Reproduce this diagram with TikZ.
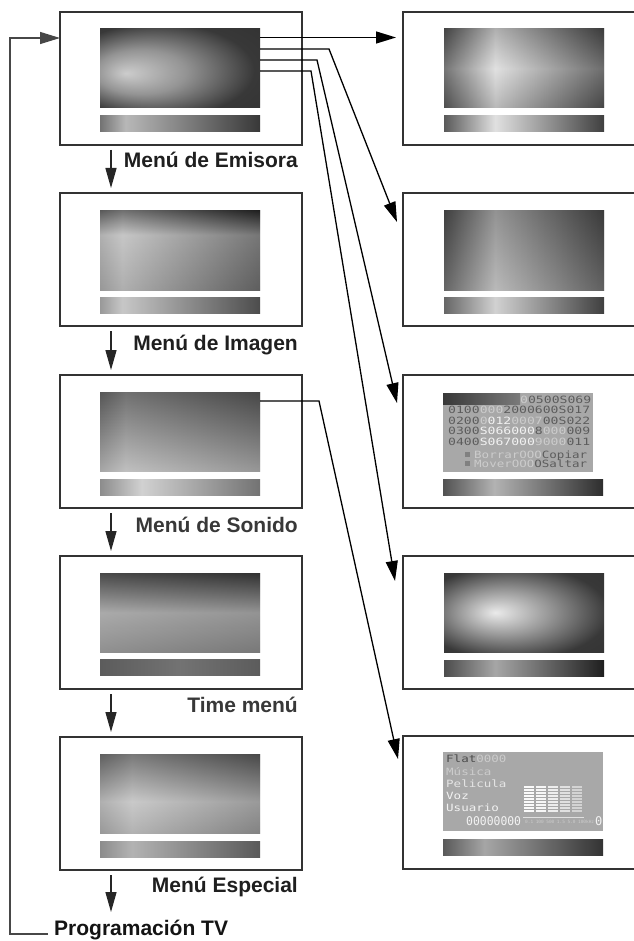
\documentclass[tikz,border=0pt]{standalone}
\usepackage{fontspec}
\setmainfont{Liberation Sans}
\newfontfamily\osd{DejaVu Sans Mono}
\usepackage{graphicx}
\usetikzlibrary{arrows.meta,calc}
\definecolor{odk}{gray}{0.36}
\definecolor{olt}{gray}{0.80}
\definecolor{owt}{gray}{0.95}
\definecolor{panel}{gray}{0.66}
% ---- shadings (box spans 25bp..75bp) ----
\pgfdeclareradialshading{spotLone}{\pgfpoint{-17bp}{-3bp}}{color(0bp)=(black!20); color(14bp)=(black!42); color(30bp)=(black!78); color(50bp)=(black!82)}
\pgfdeclarehorizontalshading{barLone}{100bp}{color(0bp)=(black!55); color(25bp)=(black!55); color(33bp)=(black!28); color(75bp)=(black!78); color(100bp)=(black!78)}
\pgfdeclareverticalshading{vLtwo}{100bp}{color(0bp)=(black!45); color(25bp)=(black!45); color(60bp)=(black!28); color(75bp)=(black!88); color(100bp)=(black!88)}
\pgfdeclarehorizontalshading{hLtwo}{100bp}{color(0bp)=(black!35); color(25bp)=(black!35); color(32bp)=(black!15); color(75bp)=(black!85); color(100bp)=(black!85)}
\pgfdeclarehorizontalshading{barLtwo}{100bp}{color(0bp)=(black!40); color(25bp)=(black!40); color(32bp)=(black!22); color(75bp)=(black!70); color(100bp)=(black!70)}
\pgfdeclareverticalshading{vLthree}{100bp}{color(0bp)=(black!28); color(25bp)=(black!28); color(75bp)=(black!80); color(100bp)=(black!80)}
\pgfdeclarehorizontalshading{hLthree}{100bp}{color(0bp)=(black!45); color(25bp)=(black!45); color(33bp)=(black!20); color(75bp)=(black!60); color(100bp)=(black!60)}
\pgfdeclarehorizontalshading{barLthree}{100bp}{color(0bp)=(black!45); color(25bp)=(black!45); color(38bp)=(black!18); color(75bp)=(black!55); color(100bp)=(black!55)}
\pgfdeclareverticalshading{vLfour}{100bp}{color(0bp)=(black!45); color(25bp)=(black!45); color(50bp)=(black!30); color(75bp)=(black!85); color(100bp)=(black!85)}
\pgfdeclarehorizontalshading{hLfour}{100bp}{color(0bp)=(black!40); color(25bp)=(black!40); color(75bp)=(black!70); color(100bp)=(black!70)}
\pgfdeclarehorizontalshading{barLfour}{100bp}{color(0bp)=(black!64); color(25bp)=(black!64); color(50bp)=(black!55); color(75bp)=(black!64); color(100bp)=(black!64)}
\pgfdeclareverticalshading{vLfive}{100bp}{color(0bp)=(black!40); color(25bp)=(black!40); color(45bp)=(black!25); color(75bp)=(black!78); color(100bp)=(black!78)}
\pgfdeclarehorizontalshading{hLfive}{100bp}{color(0bp)=(black!40); color(25bp)=(black!40); color(35bp)=(black!15); color(75bp)=(black!62); color(100bp)=(black!62)}
\pgfdeclarehorizontalshading{barLfive}{100bp}{color(0bp)=(black!45); color(25bp)=(black!45); color(35bp)=(black!30); color(75bp)=(black!65); color(100bp)=(black!65)}
\pgfdeclarehorizontalshading{hRone}{100bp}{color(0bp)=(black!75); color(25bp)=(black!75); color(41bp)=(black!10); color(75bp)=(black!80); color(100bp)=(black!80)}
\pgfdeclareverticalshading{vRone}{100bp}{color(0bp)=(black!60); color(25bp)=(black!60); color(50bp)=(black!15); color(75bp)=(black!70); color(100bp)=(black!70)}
\pgfdeclarehorizontalshading{barRone}{100bp}{color(0bp)=(black!65); color(25bp)=(black!65); color(41bp)=(black!12); color(75bp)=(black!75); color(100bp)=(black!75)}
\pgfdeclarehorizontalshading{hRtwo}{100bp}{color(0bp)=(black!75); color(25bp)=(black!75); color(41bp)=(black!28); color(75bp)=(black!78); color(100bp)=(black!78)}
\pgfdeclareverticalshading{vRtwo}{100bp}{color(0bp)=(black!25); color(25bp)=(black!25); color(75bp)=(black!75); color(100bp)=(black!75)}
\pgfdeclarehorizontalshading{barRtwo}{100bp}{color(0bp)=(black!60); color(25bp)=(black!60); color(41bp)=(black!18); color(75bp)=(black!75); color(100bp)=(black!75)}
\pgfdeclarehorizontalshading{barRthree}{100bp}{color(0bp)=(black!68); color(25bp)=(black!68); color(41bp)=(black!30); color(75bp)=(black!82); color(100bp)=(black!82)}
\pgfdeclareradialshading{spotRfour}{\pgfpoint{-9bp}{0bp}}{color(0bp)=(black!8); color(14bp)=(black!40); color(30bp)=(black!78); color(50bp)=(black!82)}
\pgfdeclarehorizontalshading{barRfour}{100bp}{color(0bp)=(black!70); color(25bp)=(black!70); color(41bp)=(black!35); color(75bp)=(black!88); color(100bp)=(black!88)}
\pgfdeclarehorizontalshading{barRfive}{100bp}{color(0bp)=(black!65); color(25bp)=(black!65); color(38bp)=(black!35); color(75bp)=(black!80); color(100bp)=(black!80)}
\pgfdeclarehorizontalshading{headRthree}{100bp}{color(0bp)=(black!78); color(25bp)=(black!78); color(75bp)=(black!52); color(100bp)=(black!52)}
\newcommand\osdtext[2]{\scalebox{#1}[1]{\osd\fontsize{10}{10}\selectfont #2}}
\begin{document}
\begin{tikzpicture}[x=1pt,y=-1pt,
  box/.style={draw=black!80, line width=1.3pt, minimum width=242pt, minimum height=133pt, anchor=north west, inner sep=0pt, outer sep=0pt},
  rbox/.style={box, minimum width=240pt},
  scr/.style={anchor=north west, inner sep=0pt, outer sep=0pt, minimum width=160pt, minimum height=79pt, shade, shading=#1},
  barn/.style={anchor=north west, inner sep=0pt, outer sep=0pt, minimum width=160pt, minimum height=16pt, shade, shading=#1},
  menulab/.style={anchor=base east, inner sep=0pt, font=\fontsize{21}{25}\selectfont\bfseries, text=black!88},
  link/.style={line width=1.3pt, black, -{Triangle[length=20pt,width=12pt]}},
  down/.style={line width=1.3pt, black!85, -{Triangle[length=20pt,width=11pt]}, shorten <=5pt, shorten >=5pt},
  loopline/.style={line width=1.3pt, black!72, -{Triangle[length=20pt,width=12pt]}},
  osdnode/.style={anchor=base west, inner sep=0pt},
  panelbox/.style={anchor=north west, inner sep=0pt, outer sep=0pt, fill=panel}
]
\useasboundingbox (0,0) rectangle (633,941);
\fill[white] (0,0) rectangle (633,941);

% ---------- left column boxes ----------
\node[box] (L1) at (60,12) {};
\node[box] (L2) at (60,193) {};
\node[box] (L3) at (60,375) {};
\node[box] (L4) at (60,556) {};
\node[box] (L5) at (60,737) {};

\node[scr=spotLone] (sL1) at ($(L1.north west)+(40,17)$) {};
\node[barn=barLone] (bL1) at ($(L1.north west)+(40,104)$) {};

\node[scr=vLtwo] (sL2) at ($(L2.north west)+(40,18)$) {};
\shade[shading=hLtwo, opacity=.45] (sL2.north west) rectangle (sL2.south east);
\node[barn=barLtwo] (bL2) at ($(L2.north west)+(40,104)$) {};

\node[scr=vLthree] (sL3) at ($(L3.north west)+(40,17)$) {};
\shade[shading=hLthree, opacity=.4] (sL3.north west) rectangle (sL3.south east);
\node[barn=barLthree] (bL3) at ($(L3.north west)+(40,104)$) {};

\node[scr=vLfour] (sL4) at ($(L4.north west)+(40,17)$) {};
\shade[shading=hLfour, opacity=.3] (sL4.north west) rectangle (sL4.south east);
\node[barn=barLfour] (bL4) at ($(L4.north west)+(40,103)$) {};

\node[scr=vLfive] (sL5) at ($(L5.north west)+(40,17)$) {};
\shade[shading=hLfive, opacity=.4] (sL5.north west) rectangle (sL5.south east);
\node[barn=barLfive] (bL5) at ($(L5.north west)+(40,104)$) {};

% ---------- right column boxes ----------
\node[rbox] (R1) at (403,12) {};
\node[rbox] (R2) at (403,193) {};
\node[rbox] (R3) at (403,375) {};
\node[rbox] (R4) at (403,556) {};
\node[rbox] (R5) at (403,736) {};

\node[scr=hRone] (sR1) at ($(R1.north west)+(41,17)$) {};
\shade[shading=vRone, opacity=.35] (sR1.north west) rectangle (sR1.south east);
\node[barn=barRone] (bR1) at ($(R1.north west)+(41,104)$) {};

\node[scr=hRtwo] (sR2) at ($(R2.north west)+(41,18)$) {};
\shade[shading=vRtwo, opacity=.3] (sR2.north west) rectangle (sR2.south east);
\node[barn=barRtwo] (bR2) at ($(R2.north west)+(41,104)$) {};

% R3: channel table screen
\node[panelbox, minimum width=150pt, minimum height=79pt] (sR3) at ($(R3.north west)+(40,18)$) {};
\shade[shading=headRthree] (sR3.north west) rectangle ++(77,11);
\node[barn=barRthree] (bR3) at ($(R3.north west)+(40,104)$) {};
\node[osdnode] (t30) at (520,403) {\osdtext{1.31}{\textcolor{olt}{0}\textcolor{odk}{0500S069}}};
\node[osdnode] (t31) at (448,413) {\osdtext{1.31}{\textcolor{odk}{0100}\textcolor{olt}{000}\textcolor{odk}{2000600S017}}};
\node[osdnode] (t32) at (448,424) {\osdtext{1.31}{\textcolor{odk}{0200}\textcolor{olt}{0}\textcolor{owt}{012}\textcolor{olt}{0007}\textcolor{odk}{00S022}}};
\node[osdnode] (t33) at (448,434) {\osdtext{1.31}{\textcolor{odk}{0300}\textcolor{owt}{S066000}\textcolor{odk}{8}\textcolor{olt}{000}\textcolor{odk}{009}}};
\node[osdnode] (t34) at (448,445) {\osdtext{1.31}{\textcolor{odk}{0400}\textcolor{owt}{S067000}\textcolor{olt}{9000}\textcolor{odk}{011}}};
\fill[black!50] (465,452) rectangle ++(5,5);
\fill[black!50] (465,461) rectangle ++(5,5);
\node[osdnode] (t35) at (474,458) {\osdtext{1.25}{\textcolor{olt}{BorrarOOO}\textcolor{odk}{Copiar}}};
\node[osdnode] (t36) at (474,467) {\osdtext{1.25}{\textcolor{olt}{MoverOOO}\textcolor{odk}{OSaltar}}};

\node[scr=spotRfour] (sR4) at ($(R4.north west)+(41,17)$) {};
\node[barn=barRfour] (bR4) at ($(R4.north west)+(41,104)$) {};

% R5: sound equaliser screen
\node[panelbox, minimum width=160pt, minimum height=79pt] (sR5) at ($(R5.north west)+(40,16)$) {};
\node[barn=barRfive] (bR5) at ($(R5.north west)+(40,103)$) {};
\node[osdnode] (t50) at (446,762) {\osdtext{1.25}{\textcolor{black!70}{Flat}\textcolor{olt}{0000}}};
\node[osdnode] (t51) at (446,775) {\osdtext{1.25}{\textcolor{olt}{Música}}};
\node[osdnode] (t52) at (446,787) {\osdtext{1.25}{\textcolor{black!10}{Pelicula}}};
\node[osdnode] (t53) at (446,799) {\osdtext{1.25}{\textcolor{owt}{Voz}}};
\node[osdnode] (t54) at (446,811) {\osdtext{1.25}{\textcolor{owt}{Usuario}}};
\node[osdnode] (t55) at (466,825) {\scalebox{0.95}[1]{\osd\fontsize{12}{12}\selectfont\textcolor{owt}{00000000}}};
\node[osdnode] (t56) at (525,823) {\osd\fontsize{4.4}{5}\selectfont\textcolor{olt}{0.1 100 500 1.5 5.0 100kHz}};
\node[osdnode] (t57) at (595,825) {\osd\fontsize{12}{12}\selectfont\textcolor{owt}{0}};
\foreach \c/\o in {0/0.95,1/0.9,2/0.8,3/0.65,4/0.5} {
  \foreach \r in {0,...,8} {
    \fill[white, opacity=\o] ({524+12*\c},{786+3*\r}) rectangle ++(10,2);
  }
}
\draw[black!12, line width=0.8pt] (523,817) -- (584,817);

% ---------- labels ----------
\node[menulab] (lab1) at (298,168) {Menú de Emisora};
\node[menulab] (lab2) at (298,350) {Menú de Imagen};
\node[menulab, text=black!78] (lab3) at (298,532) {Menú de Sonido};
\node[menulab, text=black!78] (lab4) at (298,712) {Time menú};
\node[menulab] (lab5) at (298,892) {Menú Especial};
\node[anchor=base west, inner sep=0pt, font=\fontsize{21}{25}\selectfont\bfseries, text=black!92] (prog) at (54,935) {Programación TV};

% ---------- down arrows ----------
\draw[down] ([xshift=51pt]L1.south west) -- ([xshift=51pt]L2.north west);
\draw[down] ([xshift=51pt]L2.south west) -- ([xshift=51pt]L3.north west);
\draw[down] ([xshift=51pt]L3.south west) -- ([xshift=51pt]L4.north west);
\draw[down] ([xshift=51pt]L4.south west) -- ([xshift=51pt]L5.north west);
\coordinate (pend) at (111,917);
\draw[down] ([xshift=51pt]L5.south west) -- (pend);

% ---------- feedback loop ----------
\coordinate (fb) at (10,38);
\draw[loopline] ([xshift=-6pt,yshift=1pt]prog.base west) -| (fb) -- (L1.west |- fb);

% ---------- connectors to sub-menus ----------
\coordinate (t1) at ($(R1.north west)+(-7,25.5)$);
\coordinate (t2) at ($(R2.north west)+(-6,29)$);
\coordinate (t3) at ($(R3.north west)+(-6,28)$);
\coordinate (t4) at ($(R4.north west)+(-8,25)$);
\coordinate (t5) at ($(R5.north west)+(-5,23)$);
\draw[link] ($(sL1.north east)+(0,8.5)$) -- (t1);
\draw[link] ($(sL1.north east)+(0,20)$) -- ++(69,0) -- (t2);
\draw[link] ($(sL1.north east)+(0,31)$) -- ++(57,0) -- (t3);
\draw[link] ($(sL1.north east)+(0,42)$) -- ++(51,0) -- (t4);
\draw[link] ($(sL3.north east)+(0,9)$) -- ++(59,0) -- (t5);
\end{tikzpicture}
\end{document}
